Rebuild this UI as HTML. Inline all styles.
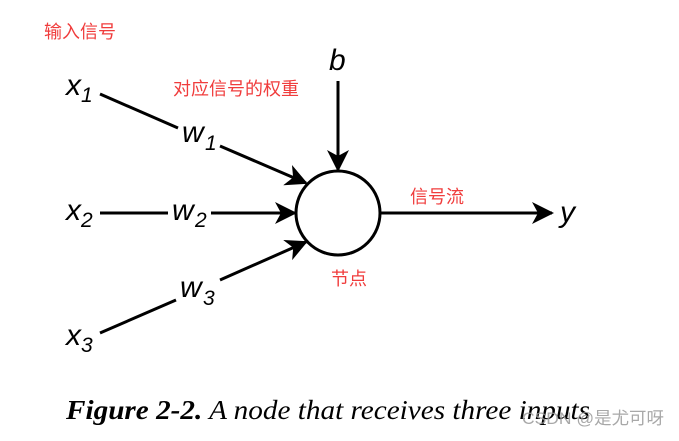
<!DOCTYPE html>
<html><head><meta charset="utf-8"><style>
body{margin:0;background:#fff;}
</style></head><body>
<svg width="679" height="436" xmlns="http://www.w3.org/2000/svg">
<defs>
<marker id="b" markerWidth="22" markerHeight="22" refX="20" refY="11" orient="auto" markerUnits="userSpaceOnUse" viewBox="0 0 22 22"><path d="M0,0 L22,11 L0,22 L6,11 z" fill="#000"/></marker></defs>
<g font-family="Liberation Sans, sans-serif" font-style="italic" fill="#000">
<text x="66" y="95" font-size="30">x</text><text x="81" y="102" font-size="21">1</text>
<text x="66" y="220" font-size="30">x</text><text x="81" y="227" font-size="21">2</text>
<text x="66" y="345" font-size="30">x</text><text x="81" y="352" font-size="21">3</text>
<text x="182" y="142" font-size="30">w</text><text x="205" y="150" font-size="21">1</text>
<text x="172" y="220" font-size="30">w</text><text x="195" y="227" font-size="21">2</text>
<text x="180" y="297" font-size="30">w</text><text x="203" y="305" font-size="21">3</text>
<text x="329" y="70" font-size="30">b</text>
<text x="560" y="222" font-size="30">y</text>
</g>
<g stroke="#000" stroke-width="3" fill="none">
<line x1="100" y1="94" x2="178" y2="128"/>
<line x1="220" y1="146" x2="306" y2="183" marker-end="url(#b)"/>
<line x1="100" y1="213" x2="168" y2="213"/>
<line x1="211" y1="213" x2="295" y2="213" marker-end="url(#b)"/>
<line x1="100" y1="333" x2="176" y2="300"/>
<line x1="220" y1="280" x2="306" y2="242" marker-end="url(#b)"/>
<line x1="338" y1="81" x2="338" y2="170" marker-end="url(#b)"/>
<line x1="381" y1="213" x2="552" y2="213" marker-end="url(#b)"/>
<circle cx="338" cy="213" r="42"/>
</g>
<g font-family="Liberation Sans, Noto Sans CJK SC, sans-serif" font-size="18" fill="#f03c3c">
<text x="44" y="38">输入信号</text>
<text x="173" y="95">对应信号的权重</text>
<text x="410" y="203">信号流</text>
<text x="331" y="285">节点</text>
</g>
<text x="66" y="419" font-family="Liberation Serif, serif" font-size="27" font-style="italic" fill="#000" textLength="524" lengthAdjust="spacingAndGlyphs"><tspan font-weight="bold">Figure 2-2.</tspan>  A node that receives three inputs</text>
<text x="522" y="424" font-family="Liberation Sans, Noto Sans CJK SC, sans-serif" font-size="17" fill="#999" opacity="0.85" textLength="142" lengthAdjust="spacingAndGlyphs">CSDN @是尤可呀</text>
</svg>
</body></html>
